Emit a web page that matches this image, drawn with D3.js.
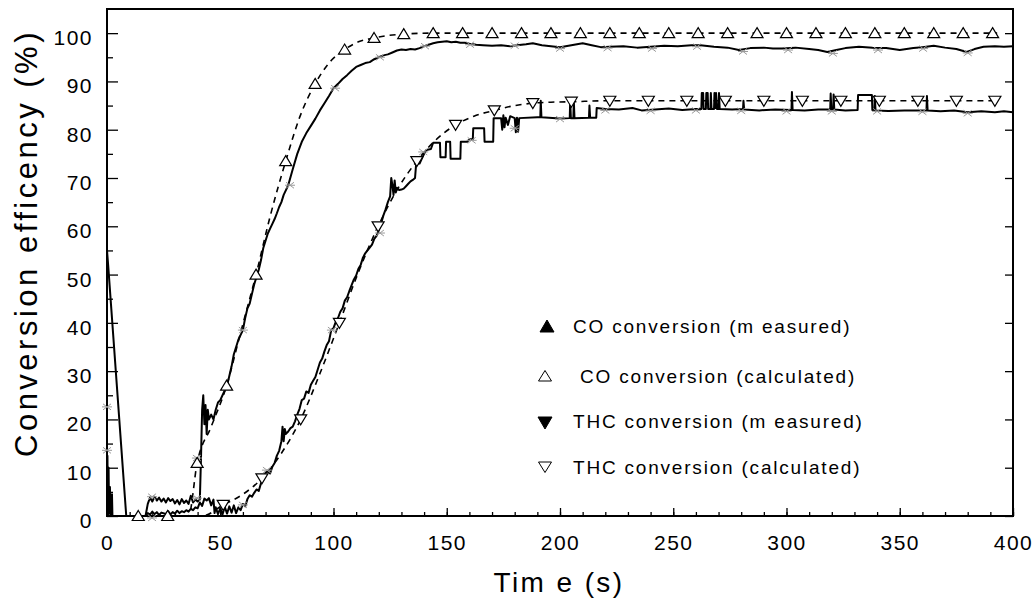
<!DOCTYPE html>
<html>
<head>
<meta charset="utf-8">
<title>Conversion efficency</title>
<script src="https://d3js.org/d3.v7.min.js"></script>
<style>
  body { margin: 0; background: #fff; }
  text { font-family: "Liberation Sans", Arial, sans-serif; fill: #000; }
</style>
</head>
<body>
<div id="chart"></div>
<script>
// measured CO conversion, [time s, %]
var coMeasured = [
  [0,55],[0.5,52],[8.5,0],[12,0],[17,0],[18,2.5],[19,3.8],[20,3],[21,4],[22,3.2],[23,3.8],[24,3],[25,3.6],
  [26,2.8],[27,3.7],[28,3.1],[29,3.5],[30,2.6],[31,3.3],[32,2.4],[33,3.5],[34,2.7],[35,3.2],[36,2.5],[37,4.2],
  [38,2.8],[39,3.4],[40,3],[41,3.5],[41.5,12],[42,22],[42.5,25],[43,19],[43.5,23],[44,17],[44.5,22],[45,20],
  [46,21],[47,20],[48,22],[49,23.5],[50,24],[51,25],[52,26],[53,27],[54,29],[55,31],[56,33.5],[57,35],
  [58,36.5],[59,37.5],[60,38.5],[61,41],[62,43],[63,44],[64,46],[65,48],[66,49.5],[67,51],[68,53],[69,55.5],
  [70,57],[71,58.5],[72,59.5],[73,60.5],[74,61.5],[75,62.7],[76,64],[77,65],[78,66.5],[79,67.5],[80,68.5],
  [82,71.8],[84,75],[86,77.5],[88,79.3],[90,80.8],[92,82.3],[94,84],[96,85.5],[98,87],[100,88.6],
  [102,89.5],[104,90.5],
  [106,91.3],[108,92.2],[110,93],[112,93.4],[114,93.8],[116,94],[118,94.6],[120,95],[122,95.4],[124,95.6],
  [126,96],[128,96.4],[130,96.6],[132,96.5],[134,96.7],[136,96.6],[138,96.9],[140,97.3],[142,97.6],[144,97.9],
  [146,98.1],[148,98.2],[150,98.3],[152,98.1],[154,98.2],[156,98],[158,98],[160,97.8],[163,97.6],[166,97.5],
  [170,97.4],[174,97.5],[178,97.3],[181,97.5],[185,97.7],[188,97.9],[192,97.5],[196,97.3],[200,97.1],
  [205,97.5],[210,97.9],[214,97.5],[218,97.1],[222,97.2],[228,97.3],[234,97],[240,97.2],[246,97.4],
  [252,97.3],[258,97.5],[262,97.5],[268,97.2],[274,97],[279,96.5],[284,96.9],[290,97],[294,96.8],[298,96.8],
  [304,97],[310,96.7],[314,96.5],[318,96.1],[322,96.5],[326,96.9],[332,97.2],[338,97],[344,96.9],[350,96.5],
  [356,96.9],[360,97.1],[365,97.4],[370,97],[375,96.7],[379.6,96.1],[383,96.7],[387,97.2],[392,97.3],
  [396,97.2],[400,97.3]
];

// measured THC conversion, [time s, %]
var thcMeasured = [
  [0,0],[0.2,12.5],[0.4,0],[0.7,10],[0.9,0.5],[1.3,6],[1.5,0.3],[2.2,4.5],[2.4,0],[3,0],[17,0],[18,0.6],
  [19,0.3],[20,0.9],[21,0.4],[22,0.8],[23,0.2],[24,0.7],[26,0.4],[27,1],[28,0.3],[29,0.8],[30,0.5],[31,1.1],
  [32,0.6],[33,1],[34,0.8],[35,1.2],[36,0.9],[37,1.5],[38,1.2],[39,1.8],[40,1.6],[41,2.8],[42,2.1],[43,3.6],
  [44,3.2],[45,3.7],[46,2.2],[47,3.4],[47.5,0.6],[48,1.8],[49,0.4],[50,1.6],[51,0.3],[52,1.9],[53,0.5],
  [54,2],[55,0.7],[56,2.2],[57,0.6],[58,1.8],[59,1.2],[60,2.5],[61,2],[62,3.5],[63,4.3],[64,4],[65,4.8],
  [66,5.5],[67,5.2],[68,6.8],[69,7.5],[70,9],[71,9.2],[72,8.8],[73,10.2],[74,11],[75,12.5],[76,13.5],
  [77,15.5],[77.5,18.5],[78,15.5],[78.5,18],[79,17],[80,17.5],[81,18.2],[82,18.5],[83,19.6],[84,21],
  [85,22.2],[86,24],[87,24.3],[88,25.8],[89,25.5],[90,27.2],[91,28],[92,28.8],[93,30.3],[94,31.8],[95,32.6],
  [96,34.1],[97,35.4],[98,36.2],[99,38.5],[100,38.9],[101,40.2],[102,41],[103,42.3],[104,43],[105,44.6],
  [106,45.3],[107,46.6],[108,47.8],[109,49],[110,49.8],[111,51.2],[112,52],[113,53.5],[114,54.4],[115,55],
  [116,55.6],[117,56.2],[118,57.4],[119,58],[120,59.2],[121,60.6],[122,62.2],[123,63.5],[124,65],[125,66.2],
  [125.5,70],[126,68.5],[126.5,66.5],[127,69.5],[127.5,67],[128,68],[129,67.5],[130,67.6],[131,67.8],
  [132,68.3],[133,68.8],[134,69.3],[135,69.6],[136,70],[136.5,73],[138,73],[139,74],[140,75],[141,75.8],
  [143,76],[144,77.3],[147,77.3],[147.2,74.3],[149.5,74.3],[149.7,77.5],[151.5,77.5],[151.7,74],[156,74],
  [156.2,77.5],[159,77.5],[160,78],[161.5,78],[161.7,80.3],[166.5,80.3],[166.7,77.5],[170.5,77.5],
  [170.7,82.4],[174,82.4],[174.5,80],[175,83],[175.5,80.5],[176,82.5],[177,81],[178,82.8],[180,82.4],
  [180.5,79.5],[181,82.5],[181.5,79.6],[182,82.4],[190,82.6],[191.3,82.6],[191.5,86],[191.8,82.6],
  [200,82.3],[204.3,82.4],[204.5,86],[204.8,82.4],[205.9,82.4],[206.1,86],[206.4,82.4],[212.8,82.5],
  [213,85],[213.3,82.5],[216,82.5],[216.2,84.5],[220,84.3],[226,84.2],[232,84.5],[236,84],[242,84.2],
  [248,84.4],[254,84.1],[260,84.3],[262.4,84.3],[262.6,87.6],[263.2,87.6],[263.4,84.3],[264.4,84.3],
  [264.6,87.6],[265.2,87.6],[265.4,84.3],[266.4,84.3],[266.6,87.6],[266.9,84.3],[268,84.3],[268.2,87.6],
  [268.6,84.5],[268.9,87.6],[269.3,84.3],[270,84.3],[270.2,87.6],[270.5,84.3],[276,84.2],[280.8,84.3],
  [281,86],[281.3,84.2],[288,84],[295,84.2],[302.2,84.1],[302.4,87.8],[302.7,84.1],[308,84],[314,84.2],
  [319.3,84.2],[319.5,87.5],[319.8,84.2],[320.6,84.2],[320.8,87.3],[321.1,84.2],[326,84],[331.4,84.1],
  [331.6,87.2],[337.7,87.2],[337.9,84.1],[338.8,84.1],[339,87],[339.3,84],[345,83.9],[352,84],[358,84],
  [361.8,84],[362,87],[362.3,84],[368,83.8],[374,84],[380,83.6],[386,83.8],[392,83.6],[396,83.8],[400,83.6]
];

// grey symbols sitting on the measured traces
var coMarkT  = [0, 19.9, 39.7, 60, 80.8, 100.7, 120.5, 140.4, 160.3, 180, 200, 221, 240.6, 260.5, 280.8, 300.7, 320.5, 340.4, 360.3, 380];
var coMarkV  = [22.6, 4, 12, 38.5, 68.5, 88.6, 95, 97.3, 97.6, 97.4, 96.8, 96.9, 96.8, 97.2, 96.2, 96.5, 95.8, 96.5, 96.8, 95.9];
var thcMarkT = [0, 19.9, 39.7, 60, 70.6, 99.3, 120.5, 139.6, 161, 180, 200, 220, 240, 260, 280, 300, 320, 340, 360, 380];
var thcMarkV = [13.6, -0.4, 3.7, 2.3, 9.5, 38.5, 58.6, 75.4, 77.8, 80.3, 82.2, 84, 83.9, 84, 83.9, 83.8, 83.8, 83.8, 83.7, 83.4];

// calculated curves (dashed) and their triangle markers
var coCalcLine = [[0,0],[36,0],[39.8,11],[46,18.5],[52.8,27],[59,38],[65.8,50],[72,62],[78.9,73.5],[85,82.5],
  [91.9,89.5],[98,93.8],[104.9,96.6],[111,98.2],[117.9,99],[124,99.5],[131,99.8],[144,100],[393,100]];
var coCalcT = [13.8, 26.8, 39.8, 52.8, 65.8, 78.9, 91.9, 104.9, 117.9, 131, 144, 157, 170, 183, 196, 209, 222, 235,
  248, 261, 274, 287, 300, 313, 326, 339, 352, 365, 378, 391];
var coCalcV = [0, 0, 11, 27, 50, 73.5, 89.5, 96.6, 99, 99.8, 100, 100, 100, 100, 100, 100, 100, 100,
  100, 100, 100, 100, 100, 100, 100, 100, 100, 100, 100, 100];

var thcCalcLine = [[0,0],[42,0],[51.3,2.3],[60,4.5],[68.4,7.8],[77,13],[85.5,20],[94,29.5],[102.6,40],[111,50.5],
  [119.7,60],[128,67.5],[136.8,73.5],[145,77.8],[153.9,81],[162,82.8],[171,84],[180,85],[188.1,85.5],[196,85.7],
  [205.2,85.8],[222.3,86],[393,86]];
var thcCalcT = [51.3, 68.4, 85.5, 102.6, 119.7, 136.8, 153.9, 171, 188, 205, 222, 239, 256, 273, 290, 307, 324,
  341, 358, 375, 392];
var thcCalcV = [2.3, 7.8, 20, 40, 60, 73.5, 81, 84, 85.5, 85.8, 86, 86, 86, 86, 86, 86, 86, 86, 86, 86, 86];

var xTicks = [0, 50, 100, 150, 200, 250, 300, 350, 400];
var yTicks = [0, 10, 20, 30, 40, 50, 60, 70, 80, 90, 100];

var legendLabels = ["CO conversion (m easured)", " CO conversion (calculated)", "THC conversion (m easured)", "THC conversion (calculated)"];

var width = 1035, height = 601;

var svg = d3.select("#chart")
  .append("svg")
  .attr("width", width)
  .attr("height", height);

var x = d3.scaleLinear().domain([0, 400]).range([107, 1013]);
var y = d3.scaleLinear().domain([0, 105]).range([516, 9]);

// minor ticks
svg.append("g")
  .attr("transform", "translate(0,516)")
  .call(d3.axisBottom(x).tickValues(d3.range(0, 401, 10)).tickSize(-4).tickFormat(""))
  .call(g => g.select(".domain").remove());
svg.append("g")
  .attr("transform", "translate(107,0)")
  .call(d3.axisLeft(y).tickValues(d3.range(5, 100, 10)).tickSize(-6).tickFormat(""))
  .call(g => g.select(".domain").remove());

// major ticks + labels
var xAxis = svg.append("g")
  .attr("transform", "translate(0,516)")
  .call(d3.axisBottom(x).tickValues(xTicks).tickSize(-8).tickPadding(19));
xAxis.select(".domain").remove();
xAxis.selectAll("text")
  .attr("font-size", 21).style("letter-spacing", "1.5px");

var yAxis = svg.append("g")
  .attr("transform", "translate(107,0)")
  .call(d3.axisLeft(y).tickValues(yTicks).tickSize(-11).tickPadding(14));
yAxis.select(".domain").remove();
yAxis.selectAll("text")
  .attr("font-size", 21).attr("dy", "0.55em").style("letter-spacing", "1.5px");

svg.selectAll(".tick line").attr("stroke", "#000").attr("stroke-width", 1.3);
svg.selectAll("g text").attr("fill", "#000").attr("font-family", "'Liberation Sans', Arial, sans-serif");

// right axis ticks
svg.append("g")
  .attr("transform", "translate(1013,0)")
  .call(d3.axisRight(y).tickValues(yTicks).tickSize(-8).tickFormat(""))
  .call(g => g.select(".domain").remove())
  .selectAll("line").attr("stroke-width", 1.3);

// frame
svg.append("rect")
  .attr("x", x(0)).attr("y", y(105))
  .attr("width", x(400) - x(0)).attr("height", y(0) - y(105))
  .attr("fill", "none").attr("stroke", "#000").attr("stroke-width", 2);

var line = d3.line().x(d => x(d[0])).y(d => y(d[1]));
var smooth = d3.line().x(d => x(d[0])).y(d => y(d[1])).curve(d3.curveMonotoneX);

// dashed calculated curves
svg.append("path").datum(coCalcLine).attr("d", smooth)
  .attr("fill", "none").attr("stroke", "#000").attr("stroke-width", 1.6).attr("stroke-dasharray", "6,5");
svg.append("path").datum(thcCalcLine).attr("d", smooth)
  .attr("fill", "none").attr("stroke", "#000").attr("stroke-width", 1.6).attr("stroke-dasharray", "6,5");

// measured traces
svg.append("path").datum(coMeasured).attr("d", line)
  .attr("fill", "none").attr("stroke", "#000").attr("stroke-width", 2).attr("stroke-linejoin", "round");
svg.append("path").datum(thcMeasured).attr("d", line)
  .attr("fill", "none").attr("stroke", "#000").attr("stroke-width", 2).attr("stroke-linejoin", "round");

// grey star symbols
function star(g, ts, vs) {
  g.selectAll(null)
    .data(ts.map((t, i) => [t, vs[i]]))
    .enter().append("path")
    .attr("transform", d => "translate(" + x(d[0]) + "," + y(d[1]) + ")")
    .attr("d", "M-4,-3L4,3M-4,3L4,-3M-5,0L5,0")
    .attr("stroke", "#9a9a9a").attr("stroke-width", 1).attr("fill", "none");
}
star(svg.append("g"), coMarkT, coMarkV);
star(svg.append("g"), thcMarkT, thcMarkV);

var triUp = "M0,-5.5L6,4.5L-6,4.5Z";
var triDown = "M-6,-4.5L6,-4.5L0,5.5Z";

svg.append("g").selectAll(null)
  .data(coCalcT.map((t, i) => [t, coCalcV[i]]))
  .enter().append("path")
  .attr("transform", d => "translate(" + x(d[0]) + "," + y(d[1]) + ")")
  .attr("d", triUp)
  .attr("fill", "#fff").attr("stroke", "#000").attr("stroke-width", 1.2);

svg.append("g").selectAll(null)
  .data(thcCalcT.map((t, i) => [t, thcCalcV[i]]))
  .enter().append("path")
  .attr("transform", d => "translate(" + x(d[0]) + "," + y(d[1]) + ")")
  .attr("d", triDown)
  .attr("fill", "#fff").attr("stroke", "#000").attr("stroke-width", 1.2);

// legend
var legendY = [326, 376, 421, 467];
var legendSym = [
  {d: "M0,-6L7,6L-7,6Z", fill: "#000"},
  {d: "M0,-5.5L6.5,5L-6.5,5Z", fill: "#fff"},
  {d: "M-7,-6L7,-6L0,6Z", fill: "#000"},
  {d: "M-6.5,-5L6.5,-5L0,5.5Z", fill: "#fff"}
];
var legend = svg.append("g").attr("class", "legend");
legendLabels.forEach(function(lbl, i) {
  legend.append("path")
    .attr("transform", "translate(" + (i === 0 ? 547 : 545) + "," + (legendY[i] + (i === 2 ? 2 : 0)) + ")")
    .attr("d", legendSym[i].d)
    .attr("fill", legendSym[i].fill).attr("stroke", "#000").attr("stroke-width", 1);
  legend.append("text")
    .attr("x", 573).attr("y", legendY[i] + 7)
    .attr("font-size", 19).style("letter-spacing", "1.8px")
    .style("white-space", "pre")
    .text(lbl);
});

// axis titles
svg.append("text")
  .attr("x", 559).attr("y", 592)
  .attr("text-anchor", "middle")
  .attr("font-size", 28).style("letter-spacing", "2.4px")
  .text("Tim e (s)");

svg.append("text")
  .attr("transform", "translate(37,243) rotate(-90)")
  .attr("text-anchor", "middle")
  .attr("font-size", 31).style("letter-spacing", "3.5px")
  .text("Conversion efficency (%)");
</script>
</body>
</html>
